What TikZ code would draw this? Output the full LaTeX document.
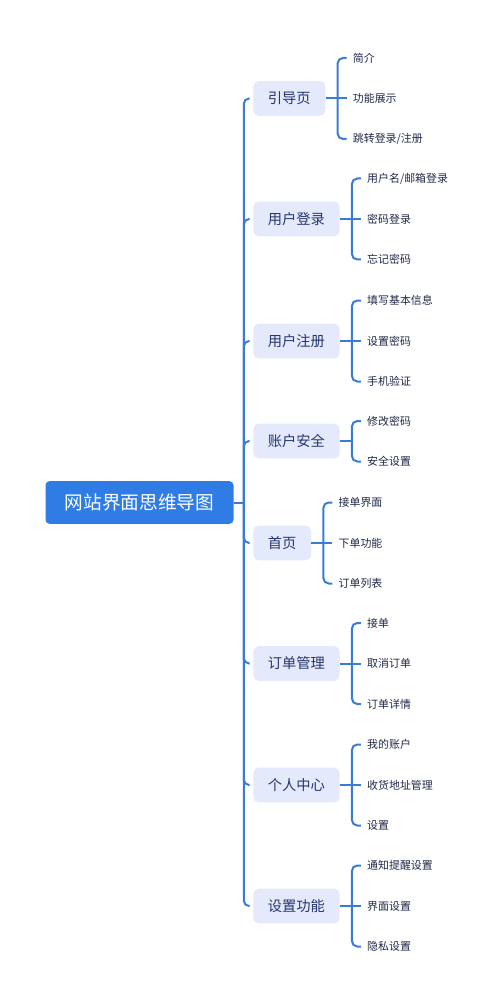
\documentclass[tikz,border=0pt]{standalone}
\usepackage{fontspec}
\setmainfont{Noto Sans CJK SC}
\usetikzlibrary{positioning,calc}
\definecolor{rootblue}{RGB}{47,125,228}
\definecolor{linkblue}{RGB}{58,123,213}
\definecolor{boxfill}{RGB}{228,233,251}
\definecolor{boxtext}{RGB}{36,54,108}
\definecolor{leaftext}{RGB}{32,40,70}
\tikzset{
  root/.style={fill=rootblue, text=white, rounded corners=3pt, minimum height=32pt, inner xsep=14.5pt, font=\fontsize{14}{16}\selectfont},
  topic/.style={fill=boxfill, text=boxtext, rounded corners=4pt, minimum height=26pt, inner xsep=11pt, anchor=west, font=\fontsize{10.7}{12}\selectfont},
  leaf/.style={text=leaftext, anchor=west, inner xsep=4.5pt, font=\fontsize{8.2}{10}\selectfont},
  link/.style={draw=linkblue, line width=1.5pt, rounded corners=4pt}
}

\begin{document}
\begin{tikzpicture}[x=0.75pt,y=-0.75pt]
\useasboundingbox (0,0) rectangle (500,1005);

% root and first level
\node[root] (root) at (139.5,502.5) {网站界面思维导图};
\node[topic] (c1) at (253,98.5) {引导页};
\node[topic] (c2) at (253,219) {用户登录};
\node[topic] (c3) at (253,341) {用户注册};
\node[topic] (c4) at (253,441) {账户安全};
\node[topic] (c5) at (253,543) {首页};
\node[topic] (c6) at (253,663.5) {订单管理};
\node[topic] (c7) at (253,785) {个人中心};
\node[topic] (c8) at (253,906) {设置功能};

% second level
\node[leaf] (g11) at ($(c1.east)+(21,-40.5)$) {简介};
\node[leaf] (g12) at ($(c1.east)+(21,0)$) {功能展示};
\node[leaf] (g13) at ($(c1.east)+(21,40.5)$) {跳转登录/注册};

\node[leaf] (g21) at ($(c2.east)+(21,-40.5)$) {用户名/邮箱登录};
\node[leaf] (g22) at ($(c2.east)+(21,0)$) {密码登录};
\node[leaf] (g23) at ($(c2.east)+(21,40.5)$) {忘记密码};

\node[leaf] (g31) at ($(c3.east)+(21,-40.5)$) {填写基本信息};
\node[leaf] (g32) at ($(c3.east)+(21,0)$) {设置密码};
\node[leaf] (g33) at ($(c3.east)+(21,40.5)$) {手机验证};

\node[leaf] (g41) at ($(c4.east)+(21,-20)$) {修改密码};
\node[leaf] (g42) at ($(c4.east)+(21,20.5)$) {安全设置};

\node[leaf] (g51) at ($(c5.east)+(21,-40.5)$) {接单界面};
\node[leaf] (g52) at ($(c5.east)+(21,0)$) {下单功能};
\node[leaf] (g53) at ($(c5.east)+(21,40.5)$) {订单列表};

\node[leaf] (g61) at ($(c6.east)+(21,-40.5)$) {接单};
\node[leaf] (g62) at ($(c6.east)+(21,0)$) {取消订单};
\node[leaf] (g63) at ($(c6.east)+(21,40.5)$) {订单详情};

\node[leaf] (g71) at ($(c7.east)+(21,-40.5)$) {我的账户};
\node[leaf] (g72) at ($(c7.east)+(21,0)$) {收货地址管理};
\node[leaf] (g73) at ($(c7.east)+(21,40.5)$) {设置};

\node[leaf] (g81) at ($(c8.east)+(21,-40.5)$) {通知提醒设置};
\node[leaf] (g82) at ($(c8.east)+(21,0)$) {界面设置};
\node[leaf] (g83) at ($(c8.east)+(21,40.5)$) {隐私设置};

% trunk
\coordinate (hub) at ($(root.east)+(10,0)$);
\draw[link] (root.east) -- (hub);
\foreach \i in {1,...,8}
{
\draw[link, shorten >=2.5pt] (hub) |- (c\i.west);
}

% brackets
\foreach \i in {1,2,3,5,6,7,8}
{
\coordinate (b\i) at ($(c\i.east)+(12,0)$);
\draw[link] (c\i.east) -- (g\i2.west);
\draw[link] (b\i) |- (g\i1.west);
\draw[link] (b\i) |- (g\i3.west);
}
\coordinate (b4) at ($(c4.east)+(12,0)$);
\draw[link] (c4.east) -- (b4);
\draw[link] (b4) |- (g41.west);
\draw[link] (b4) |- (g42.west);

\end{tikzpicture}
\end{document}
